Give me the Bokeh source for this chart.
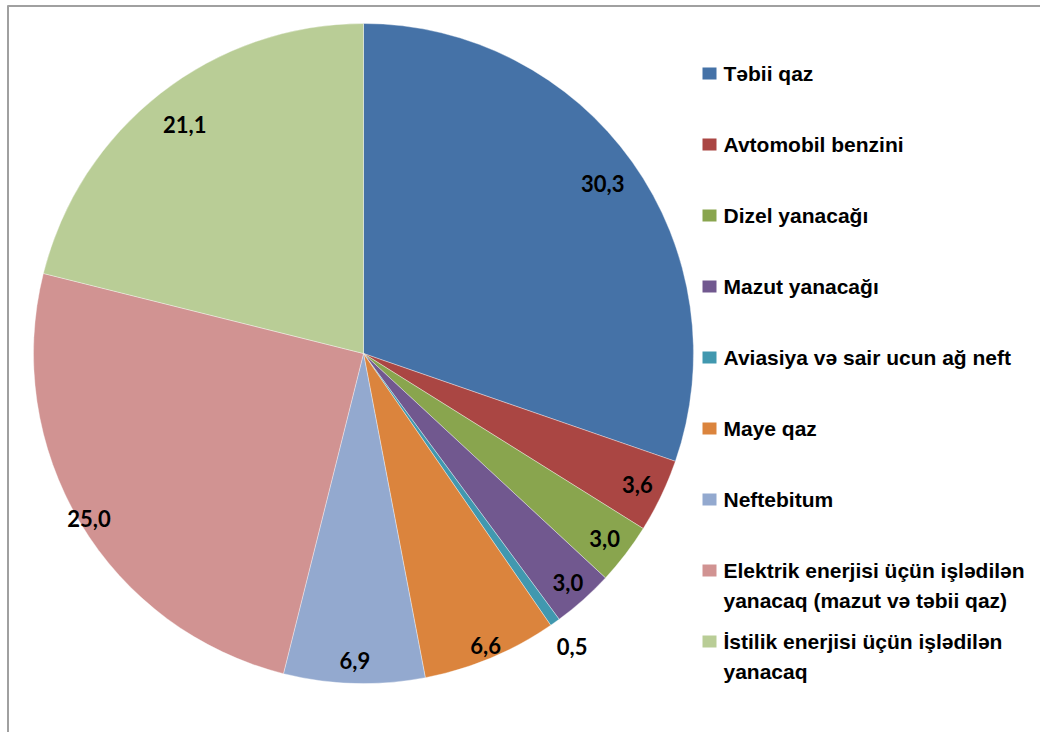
import math
from bokeh.plotting import figure
from bokeh.models import Range1d, ColumnDataSource
from bokeh.core.properties import value
from bokeh.embed import file_html
from bokeh.resources import INLINE

# ---- data ----
categories = [
    "Təbii qaz",
    "Avtomobil benzini",
    "Dizel yanacağı",
    "Mazut yanacağı",
    "Aviasiya və sair ucun ağ neft",
    "Maye qaz",
    "Neftebitum",
    "Elektrik enerjisi üçün işlədilən\nyanacaq (mazut və təbii qaz)",
    "İstilik enerjisi üçün işlədilən\nyanacaq",
]
shares = [30.3, 3.6, 3.0, 3.0, 0.5, 6.6, 6.9, 25.0, 21.1]
colors = ["#4572A7", "#AA4643", "#89A54E", "#71588F", "#4198AF",
          "#DB843D", "#93A9CF", "#D19392", "#B9CD96"]

# label distance from centre (fraction of radius), per slice
label_r = [0.89, 0.92, 0.92, 0.93, 1.09, 0.96, 0.93, 0.97, 0.88]

# ---- layout (screen pixel coords, y downward -> data y = -screen_y) ----
W, H = 1040, 732
CX, CY, R = 363, 353, 330

p = figure(width=W, height=H, x_range=Range1d(0, W), y_range=Range1d(-H, 0),
           output_backend="svg", toolbar_location=None, min_border=0)
p.axis.visible = False
p.xgrid.visible = False
p.ygrid.visible = False
p.outline_line_color = None
p.background_fill_color = "white"
p.border_fill_color = "white"

# chart border (top & left visible)
p.segment(x0=[7, 7.5], y0=[-5.5, -5], x1=[W, 7.5], y1=[-5.5, -H],
          line_color="#A0A0A0", line_width=2)

total = sum(shares)
starts, ends, lx, ly, ltxt = [], [], [], [], []
cum = 0.0
for v, f in zip(shares, label_r):
    a0 = math.pi / 2 - 2 * math.pi * (cum + v) / total
    a1 = math.pi / 2 - 2 * math.pi * cum / total
    starts.append(a0)
    ends.append(a1)
    mid = (a0 + a1) / 2
    lx.append(CX + f * R * math.cos(mid))
    ly.append(-CY + f * R * math.sin(mid))
    ltxt.append(f"{v:.1f}".replace(".", ","))
    cum += v

src = ColumnDataSource(dict(start=starts, end=ends, color=colors))
p.wedge(x=CX, y=-CY, radius=R, start_angle="start", end_angle="end",
        direction="anticlock", fill_color="color", line_color="white",
        line_width=0.6, line_alpha=0.6, source=src)

p.text(x=lx, y=ly, text=ltxt, text_font=value("Lato"), text_font_style="bold",
       text_font_size="22px", text_color="black", text_align="center",
       text_baseline="middle")

# ---- legend (manual) ----
LEG_X, LEG_Y0, LEG_STEP, LINE_H = 709, 73, 71, 30
sq_x, sq_y, t_x, t_y, t_txt = [], [], [], [], []
for i, (name, c) in enumerate(zip(categories, colors)):
    yc = LEG_Y0 + i * LEG_STEP
    sq_x.append(LEG_X)
    sq_y.append(-yc)
    for j, line in enumerate(name.split("\n")):
        t_x.append(LEG_X + 14)
        t_y.append(-(yc + j * LINE_H))
        t_txt.append(line)

p.rect(x=sq_x, y=sq_y, width=14, height=12, fill_color=colors, line_color=None)
p.text(x=t_x, y=t_y, text=t_txt,
       text_font=value("Liberation Sans"),
       text_font_style="bold", text_font_size="21px", text_color="black",
       text_align="left", text_baseline="middle")

open("out.html", "w").write(file_html(p, INLINE))
